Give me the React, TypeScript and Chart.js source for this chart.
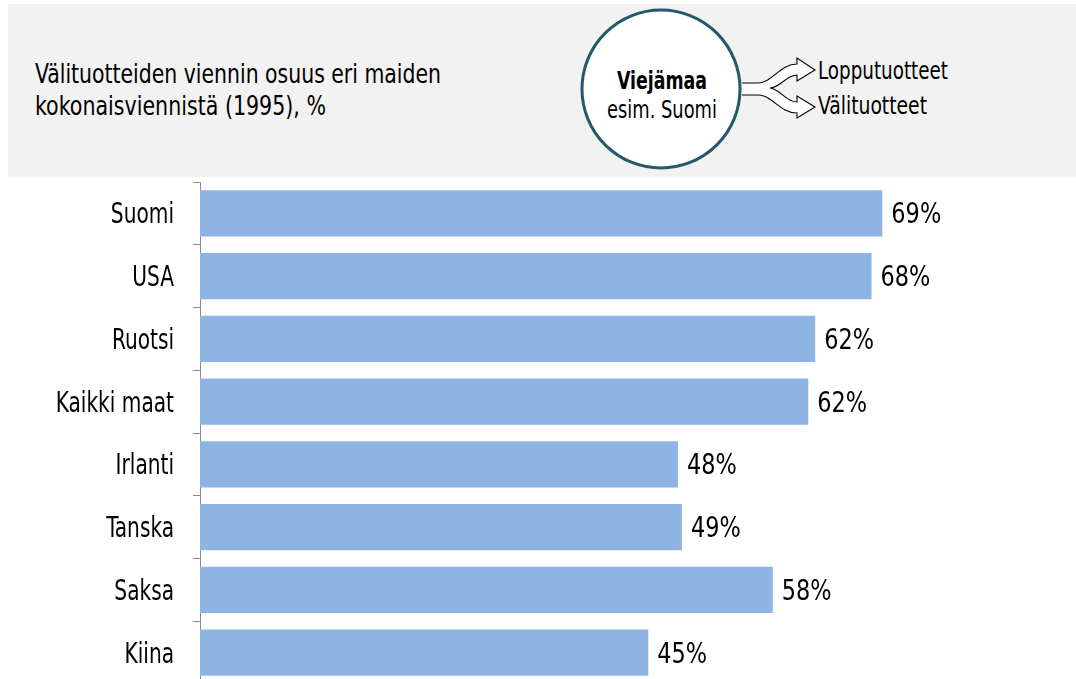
import React, { useEffect, useRef } from "react";
import { Chart, registerables } from "chart.js";

Chart.register(...registerables);

const categories = ["Suomi", "USA", "Ruotsi", "Kaikki maat", "Irlanti", "Tanska", "Saksa", "Kiina"];
const shares = [69.1, 68.0, 62.3, 61.6, 48.4, 48.8, 58.0, 45.4];
const titleLines = ["Välituotteiden viennin osuus eri maiden", "kokonaisviennistä (1995), %"];
const circleLines = ["Viejämaa", "esim. Suomi"];
const branchLabels = ["Lopputuotteet", "Välituotteet"];

const FONT = '"DejaVu Sans Condensed", "DejaVu Sans", sans-serif';

// Condensed-looking text drawn at the scale's own positions
const textPlugin = {
  id: "condensedText",
  afterDraw(chart: any) {
    const ctx = chart.ctx;
    const yScale = chart.scales.y;
    const meta = chart.getDatasetMeta(0);
    ctx.save();
    ctx.fillStyle = "#000";
    ctx.font = `28px ${FONT}`;
    // category labels
    ctx.textAlign = "right";
    ctx.textBaseline = "alphabetic";
    categories.forEach((c, i) => {
      const y = yScale.getPixelForTick(i);
      const x = yScale.right - 7 - 19;
      ctx.save();
      ctx.translate(x, y + 10);
      ctx.scale(0.8, 1);
      ctx.fillText(c, 0, 0);
      ctx.restore();
    });
    // value labels
    ctx.textAlign = "left";
    meta.data.forEach((bar: any, i: number) => {
      ctx.save();
      ctx.translate(bar.x + 9, bar.y + 10);
      ctx.scale(0.89, 1);
      ctx.fillText(Math.round(shares[i]) + "%", 0, 0);
      ctx.restore();
    });
    ctx.restore();
  },
};

export default function App() {
  const ref = useRef<HTMLCanvasElement>(null);
  useEffect(() => {
    if (!ref.current) return;
    const chart = new Chart(ref.current, {
      type: "bar",
      data: {
        labels: categories,
        datasets: [
          {
            data: shares,
            backgroundColor: "#8EB4E3",
            borderWidth: 0,
            barPercentage: 0.734,
            categoryPercentage: 1,
          },
        ],
      },
      options: {
        indexAxis: "y",
        responsive: false,
        animation: false,
        events: [],
        layout: { padding: { top: 2, right: 7, bottom: 0, left: 0 } },
        plugins: { legend: { display: false }, tooltip: { enabled: false } },
        scales: {
          x: { display: false, min: 0, max: 88 },
          y: {
            afterFit(scale: any) {
              scale.width = 200;
              scale.paddingTop = 0;
              scale.paddingBottom = 0;
            },
            border: { display: true, color: "#8c8c8c", width: 1 },
            grid: {
              display: true,
              offset: true,
              drawOnChartArea: false,
              drawTicks: true,
              tickLength: 7,
              color: "#8c8c8c",
            },
            ticks: { display: false },
          },
        },
      },
      plugins: [textPlugin],
    });
    return () => chart.destroy();
  }, []);

  return (
    <div style={{ position: "fixed", left: 0, top: 0, width: 1076, height: 679, background: "#fff", overflow: "hidden" }}>
      <div style={{ position: "absolute", left: 8, top: 4, width: 1068, height: 173, background: "#f2f2f2" }} />
      <svg width={1076} height={180} style={{ position: "absolute", left: 0, top: 0 }}>
        <text x={35} y={83} fontFamily={FONT} fontSize={27} fill="#000" textLength={406} lengthAdjust="spacingAndGlyphs">
          {titleLines[0]}
        </text>
        <text x={35} y={115} fontFamily={FONT} fontSize={27} fill="#000" textLength={291} lengthAdjust="spacingAndGlyphs">
          {titleLines[1]}
        </text>
        <circle cx={661} cy={89} r={79} fill="#fff" stroke="#23596a" strokeWidth={3} />
        <text x={617} y={89} fontFamily={FONT} fontSize={25} fontWeight="bold" fill="#000" textLength={90} lengthAdjust="spacingAndGlyphs">
          {circleLines[0]}
        </text>
        <text x={607} y={118} fontFamily={FONT} fontSize={25} fill="#000" textLength={110} lengthAdjust="spacingAndGlyphs">
          {circleLines[1]}
        </text>
        <path
          d="M742 83 L758 83 C772 83 780 64 797 64 L797 58 L815 70 L797 81 L797 75 C786 75 780 88 770 88 C780 89 786 102 797 102 L797 96 L815 107 L797 118 L797 113 C780 113 772 95 758 95 L742 95"
          fill="#fff"
          stroke="#000"
          strokeWidth={1.1}
          strokeLinejoin="miter"
        />
        <text x={818} y={79} fontFamily={FONT} fontSize={24} fill="#000" textLength={130} lengthAdjust="spacingAndGlyphs">
          {branchLabels[0]}
        </text>
        <text x={818} y={114} fontFamily={FONT} fontSize={24} fill="#000" textLength={109} lengthAdjust="spacingAndGlyphs">
          {branchLabels[1]}
        </text>
      </svg>
      <canvas ref={ref} width={1076} height={504} style={{ position: "absolute", left: 0, top: 180, display: "block" }} />
    </div>
  );
}
